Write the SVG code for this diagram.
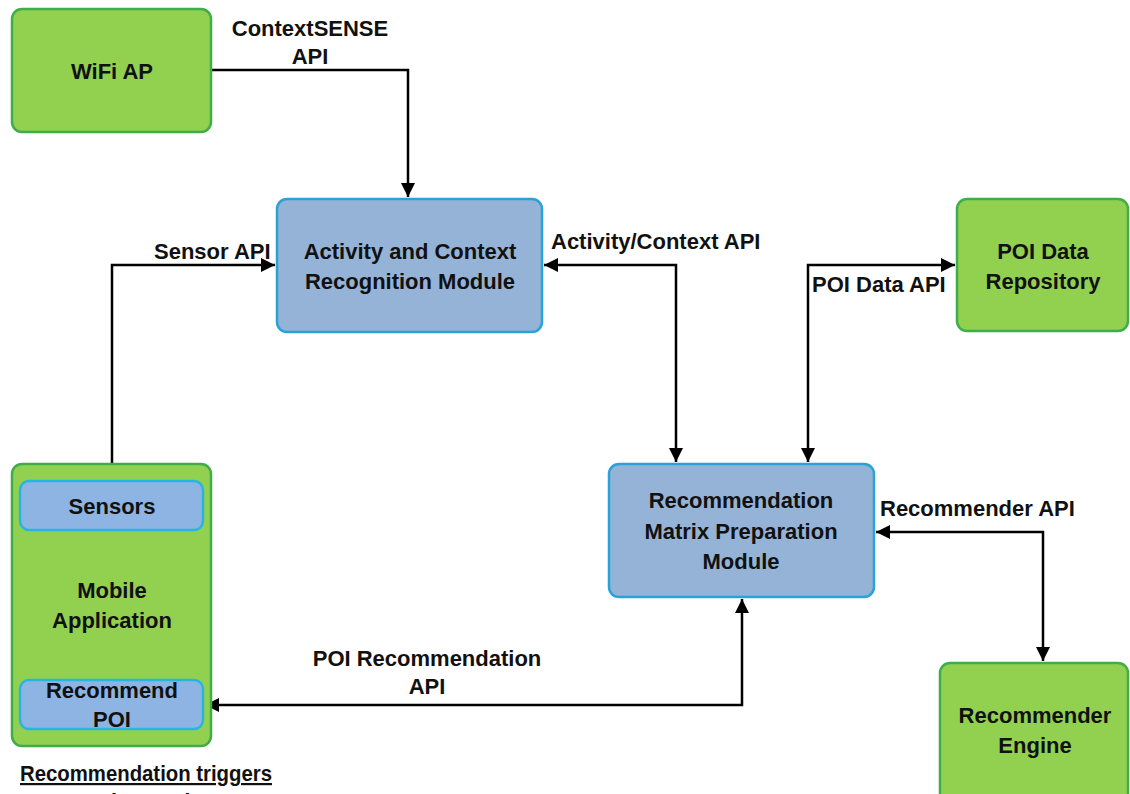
<svg xmlns="http://www.w3.org/2000/svg" width="1130" height="794" viewBox="0 0 1130 794">
<defs>
<style>
.g{fill:#92d050;stroke:#3fae49;stroke-width:2.5}
.b{fill:#95b3d7;stroke:#29a3d6;stroke-width:2.5}
.s{fill:#8db4e2;stroke:#29b5e0;stroke-width:2.5}
text{font-family:"Liberation Sans",Arial,sans-serif;font-weight:bold;font-size:22px;fill:#111}
.c{text-anchor:middle}
.w{fill:none;stroke:#000;stroke-width:2.5}
</style>
<marker id="ah" viewBox="0 0 10 10" refX="10" refY="5" markerWidth="7" markerHeight="5.6" markerUnits="strokeWidth" orient="auto-start-reverse">
<path d="M0,0 L10,5 L0,10 z" fill="#000"/>
</marker>
</defs>
<rect width="1130" height="794" fill="#fff"/>
<g id="connectors">
<path class="w" d="M211,70 H408 V197" marker-end="url(#ah)"/>
<path class="w" d="M112,481 V265 H275" marker-end="url(#ah)"/>
<path class="w" d="M544,265 H676 V462" marker-start="url(#ah)" marker-end="url(#ah)"/>
<path class="w" d="M955,265 H808 V462" marker-start="url(#ah)" marker-end="url(#ah)"/>
<path class="w" d="M876,532 H1043 V661" marker-start="url(#ah)" marker-end="url(#ah)"/>
<path class="w" d="M742,599 V705 H205" marker-start="url(#ah)" marker-end="url(#ah)"/>
<text class="c" x="310" y="36">ContextSENSE</text>
<text class="c" x="310" y="64">API</text>
<text x="154" y="259">Sensor API</text>
<text x="551" y="249">Activity/Context API</text>
<text x="812" y="292">POI Data API</text>
<text x="880" y="516">Recommender API</text>
<text class="c" x="427" y="666">POI Recommendation</text>
<text class="c" x="427" y="694">API</text>
</g>
<g id="wifi">
<rect class="g" x="12" y="9" width="199" height="123" rx="10"/>
<text class="c" x="112" y="79">WiFi AP</text>
</g>
<g id="activity">
<rect class="b" x="277" y="199" width="265" height="133" rx="10"/>
<text class="c" x="410" y="259">Activity and Context</text>
<text class="c" x="410" y="289">Recognition Module</text>
</g>
<g id="poirepo">
<rect class="g" x="957" y="199" width="171" height="132" rx="10"/>
<text class="c" x="1043" y="259">POI Data</text>
<text class="c" x="1043" y="289">Repository</text>
</g>
<g id="mobile">
<rect class="g" x="12" y="464" width="199" height="282" rx="10"/>
<text class="c" x="112" y="598">Mobile</text>
<text class="c" x="112" y="628">Application</text>
</g>
<g id="sensors">
<rect class="s" x="20" y="481" width="183" height="49" rx="9"/>
<text class="c" x="112" y="514">Sensors</text>
</g>
<g id="recpoi">
<rect class="s" x="20" y="680" width="183" height="49" rx="9"/>
<text class="c" x="112" y="698">Recommend</text>
<text class="c" x="112" y="727">POI</text>
</g>
<g id="matrix">
<rect class="b" x="609" y="464" width="265" height="133" rx="10"/>
<text class="c" x="741" y="508">Recommendation</text>
<text class="c" x="741" y="539">Matrix Preparation</text>
<text class="c" x="741" y="569">Module</text>
</g>
<g id="engine">
<rect class="g" x="940" y="663" width="188" height="145" rx="10"/>
<text class="c" x="1035" y="723">Recommender</text>
<text class="c" x="1035" y="753">Engine</text>
</g>
<g id="triggers">
<text x="20" y="781" text-decoration="underline" textLength="252" lengthAdjust="spacingAndGlyphs">Recommendation triggers</text>
<text x="40" y="809">User triggered</text>
</g>
</svg>
